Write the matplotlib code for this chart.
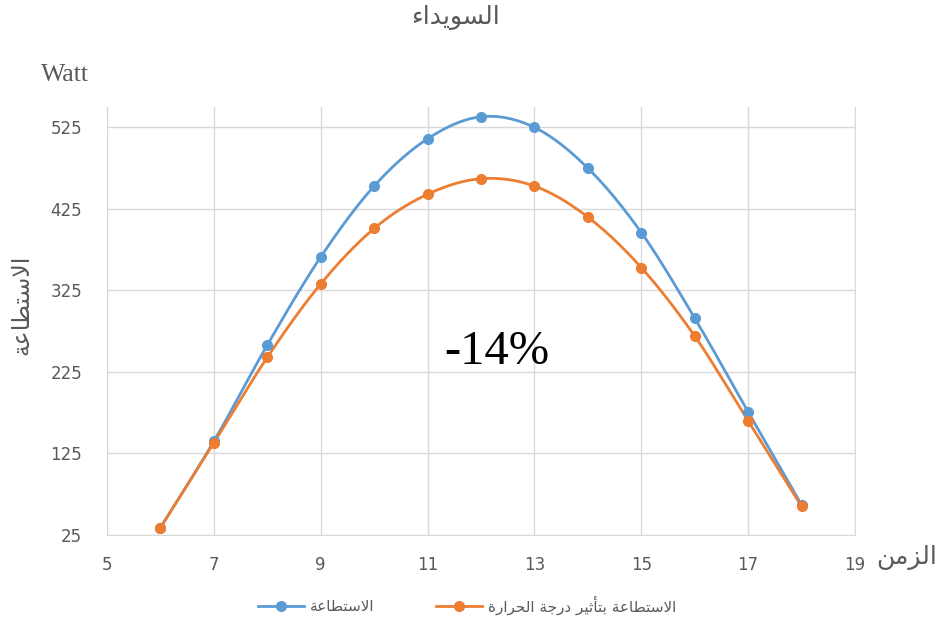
import numpy as np
import matplotlib
matplotlib.use("Agg")
import matplotlib.pyplot as plt
from matplotlib.lines import Line2D

# --- Data ---
hours = [6, 7, 8, 9, 10, 11, 12, 13, 14, 15, 16, 17, 18]
power = [34, 140, 258, 366, 453, 511, 538, 525, 475, 396, 291, 176, 62]
power_temp = [34, 138, 243, 333, 401, 443, 462, 453, 415, 353, 269, 165, 60]

x_ticks = [5, 7, 9, 11, 13, 15, 17, 19]
y_ticks = [25, 125, 225, 325, 425, 525]

title_txt = "السويداء"
xlabel_txt = "الزمن"
ylabel_txt = "الاستطاعة"
unit_txt = "Watt"
label_power = "الاستطاعة"
label_temp = "الاستطاعة بتأثير درجة الحرارة"
note_txt = "-14%"

BLUE = "#5B9BD5"
ORANGE = "#ED7D31"
GREY = "#595959"
GRID = "#D9D9D9"

# --- Minimal Arabic shaping (matplotlib has no text shaping) ---
# forms: isolated, final, initial, medial
FORMS = {
    "\u0621": ("\uFE80", None, None, None),
    "\u0623": ("\uFE83", "\uFE84", None, None),
    "\u0627": ("\uFE8D", "\uFE8E", None, None),
    "\u0628": ("\uFE8F", "\uFE90", "\uFE91", "\uFE92"),
    "\u0629": ("\uFE93", "\uFE94", None, None),
    "\u062A": ("\uFE95", "\uFE96", "\uFE97", "\uFE98"),
    "\u062B": ("\uFE99", "\uFE9A", "\uFE9B", "\uFE9C"),
    "\u062C": ("\uFE9D", "\uFE9E", "\uFE9F", "\uFEA0"),
    "\u062D": ("\uFEA1", "\uFEA2", "\uFEA3", "\uFEA4"),
    "\u062F": ("\uFEA9", "\uFEAA", None, None),
    "\u0631": ("\uFEAD", "\uFEAE", None, None),
    "\u0632": ("\uFEAF", "\uFEB0", None, None),
    "\u0633": ("\uFEB1", "\uFEB2", "\uFEB3", "\uFEB4"),
    "\u0637": ("\uFEC1", "\uFEC2", "\uFEC3", "\uFEC4"),
    "\u0639": ("\uFEC9", "\uFECA", "\uFECB", "\uFECC"),
    "\u0644": ("\uFEDD", "\uFEDE", "\uFEDF", "\uFEE0"),
    "\u0645": ("\uFEE1", "\uFEE2", "\uFEE3", "\uFEE4"),
    "\u0646": ("\uFEE5", "\uFEE6", "\uFEE7", "\uFEE8"),
    "\u0648": ("\uFEED", "\uFEEE", None, None),
    "\u064A": ("\uFEF1", "\uFEF2", "\uFEF3", "\uFEF4"),
}
LAM_ALEF = {"\u0627": ("\uFEFB", "\uFEFC", None, None),
            "\u0623": ("\uFEF7", "\uFEF8", None, None)}


def shape(text):
    toks = []
    i = 0
    while i < len(text):
        c = text[i]
        if c == "\u0644" and i + 1 < len(text) and text[i + 1] in LAM_ALEF:
            toks.append(LAM_ALEF[text[i + 1]])
            i += 2
        else:
            toks.append(FORMS.get(c, c))
            i += 1

    def joins_prev(t):
        return isinstance(t, tuple) and t[1] is not None

    def joins_next(t):
        return isinstance(t, tuple) and t[2] is not None

    out = []
    for k, t in enumerate(toks):
        if not isinstance(t, tuple):
            out.append(t)
            continue
        prev = toks[k - 1] if k > 0 else None
        nxt = toks[k + 1] if k + 1 < len(toks) else None
        cp = prev is not None and joins_next(prev) and joins_prev(t)
        cn = nxt is not None and joins_next(t) and joins_prev(nxt)
        if cp and cn:
            out.append(t[3])
        elif cp:
            out.append(t[1])
        elif cn:
            out.append(t[2])
        else:
            out.append(t[0])
    return "".join(out)[::-1]


def smooth(xs, ys, n=30):
    # Excel-like smoothed line (Catmull-Rom as cubic Bezier)
    p = np.column_stack([xs, ys]).astype(float)
    pts = []
    for i in range(len(p) - 1):
        p0 = p[i - 1] if i > 0 else p[i]
        p3 = p[i + 2] if i + 2 < len(p) else p[i + 1]
        c1 = p[i] + (p[i + 1] - p0) / 6
        c2 = p[i + 1] - (p3 - p[i]) / 6
        t = np.linspace(0, 1, n)[:, None]
        seg = ((1 - t) ** 3) * p[i] + 3 * ((1 - t) ** 2) * t * c1 \
            + 3 * (1 - t) * t ** 2 * c2 + t ** 3 * p[i + 1]
        pts.append(seg)
    pts = np.vstack(pts)
    return pts[:, 0], pts[:, 1]


plt.rcParams["font.family"] = ["DejaVu Sans"]

fig = plt.figure(figsize=(9.42, 6.22), dpi=100)
ax = fig.add_axes([107 / 942, 1 - 535 / 622, 748 / 942, 428 / 622])

for ys, col in [(power, BLUE), (power_temp, ORANGE)]:
    sx, sy = smooth(hours, ys)
    ax.plot(sx, sy, color=col, lw=2, zorder=3)
    ax.plot(hours, ys, "o", color=col, ms=7, zorder=4)

ax.set_xlim(5, 19)
ax.set_ylim(25, 550)
ax.set_xticks(x_ticks)
ax.set_yticks(y_ticks)
ax.grid(True, color=GRID, lw=1)
ax.set_axisbelow(True)
ax.tick_params(length=0, labelsize=12, labelcolor=GREY)
ax.tick_params(axis="x", pad=15)
ax.tick_params(axis="y", pad=18)
ax.spines["top"].set_visible(False)
for s in ["left", "bottom", "right"]:
    ax.spines[s].set_color(GRID)

# percentage note in the middle of the chart
ax.text(12.3, 250, note_txt, ha="center", va="center", fontsize=35,
        family="Liberation Serif", color="black")

fig.text(455 / 942, 1 - 18 / 622, shape(title_txt), ha="center", va="center",
         fontsize=18, color=GREY)
fig.text(907 / 942, 1 - 557 / 622, shape(xlabel_txt), ha="center", va="center",
         fontsize=18, color=GREY)
fig.text(21 / 942, 1 - 305 / 622, shape(ylabel_txt), ha="center", va="center",
         rotation=90, fontsize=17, color=GREY)
fig.text(65 / 942, 1 - 75 / 622, unit_txt, ha="center", va="center",
         fontsize=18.5, family="Liberation Serif", color=GREY)

handles = [Line2D([], [], color=BLUE, lw=2, marker="o", ms=7),
           Line2D([], [], color=ORANGE, lw=2, marker="o", ms=7)]
leg = fig.legend(handles, [shape(label_power), shape(label_temp)],
                 loc="center", bbox_to_anchor=(467 / 942, 1 - 605 / 622),
                 ncol=2, frameon=False, fontsize=11, handlelength=3,
                 columnspacing=4, handletextpad=0.4)
for t in leg.get_texts():
    t.set_color(GREY)

fig.savefig("out.png", dpi=100)
